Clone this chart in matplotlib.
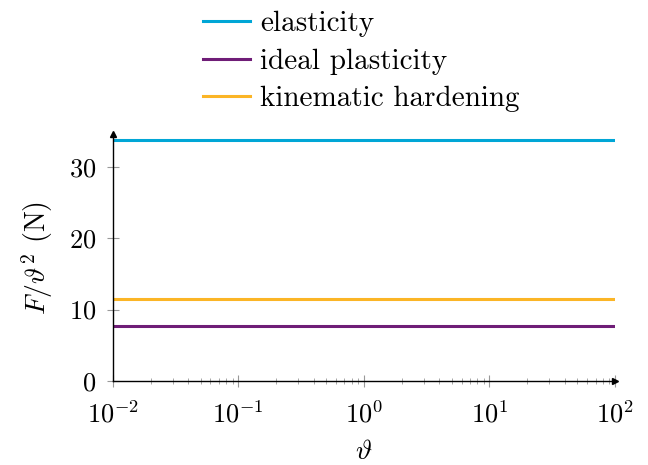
import numpy as np
import matplotlib
matplotlib.use('Agg')
from matplotlib import pyplot as plt

plt.rcParams['font.family'] = 'cmr10'
plt.rcParams['mathtext.fontset'] = 'cm'
plt.rcParams['axes.formatter.use_mathtext'] = True

theta = [1e-2, 1e-1, 1e0, 1e1, 1e2]
elasticity = [33.8, 33.8, 33.8, 33.8, 33.8]
ideal_plasticity = [7.7, 7.7, 7.7, 7.7, 7.7]
kinematic_hardening = [11.5, 11.5, 11.5, 11.5, 11.5]

fig = plt.figure(figsize=(6.48, 4.65), dpi=100)
ax = fig.add_axes([0.174, 0.181, 0.775, 0.53])

ax.plot(theta, elasticity, color='#00a6d6', lw=2.2, label='elasticity')
ax.plot(theta, ideal_plasticity, color='#6f1d77', lw=2.2, label='ideal plasticity')
ax.plot(theta, kinematic_hardening, color='#fbb526', lw=2.2, label='kinematic hardening')

ax.set_xscale('log')
ax.set_xlim(1e-2, 1e2)
ax.set_ylim(0, 34.6)
ax.set_yticks([0, 10, 20, 30])

for s in ['top', 'right']:
    ax.spines[s].set_visible(False)
ax.spines['left'].set_linewidth(1)
ax.spines['bottom'].set_linewidth(1)

ax.tick_params(which='major', direction='inout', length=8, color='#999999',
               labelsize=19)
ax.tick_params(axis='y', which='major', pad=8)
ax.tick_params(axis='x', which='major', pad=10)
ax.tick_params(which='minor', direction='inout', length=5, color='#999999')

# axis arrows
ax.plot(1, 0, '>k', ms=5, transform=ax.transAxes, clip_on=False)
ax.plot(0, 1, '^k', ms=5, transform=ax.transAxes, clip_on=False)

ax.set_xlabel(r'$\vartheta$', fontsize=20, labelpad=8)
ax.set_ylabel(r'$F/\vartheta^2$ (N)', fontsize=20, labelpad=10)

fig.legend(loc='upper left', bbox_to_anchor=(203 / 648, 1 - 11 / 465), frameon=False,
           fontsize=21, handlelength=1.6, handletextpad=0.35, labelspacing=0.38,
           borderpad=0, borderaxespad=0)

plt.savefig('out.png', dpi=100)
